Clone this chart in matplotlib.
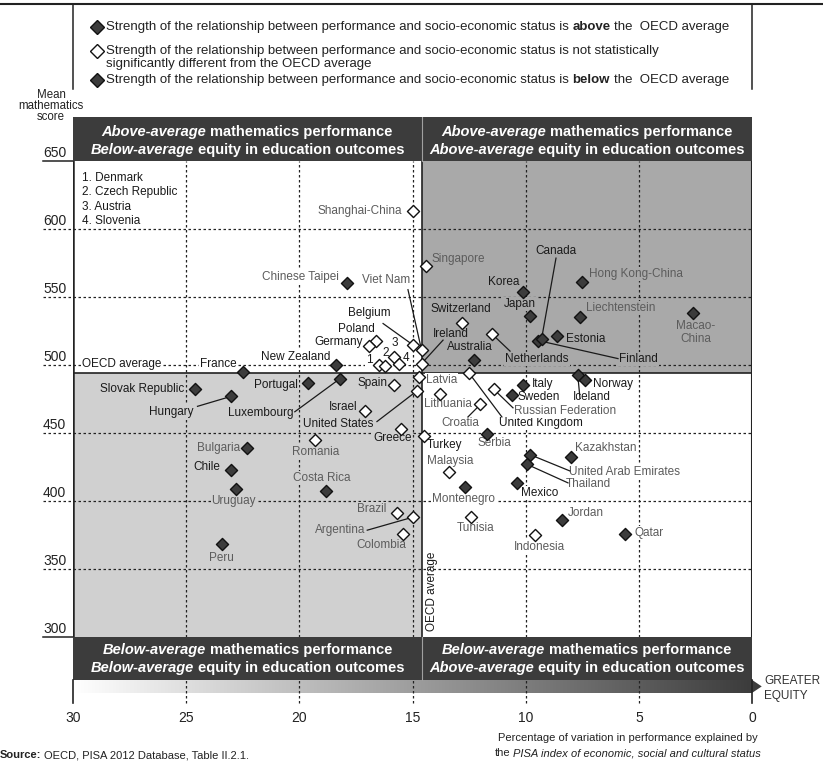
import matplotlib.pyplot as plt
import numpy as np
from matplotlib.colors import LinearSegmentedColormap
from matplotlib.patches import Rectangle, Polygon
from matplotlib.lines import Line2D
from matplotlib.transforms import offset_copy

plt.rcParams['font.family'] = ['Liberation Sans', 'DejaVu Sans']

# ---- data --------------------------------------------------------------
countries = ["Shanghai-China", "Singapore", "Hong Kong-China", "Chinese Taipei", "Korea",
             "Macao-China", "Japan", "Liechtenstein", "Switzerland", "Netherlands",
             "Estonia", "Finland", "Canada", "Poland", "Belgium", "Germany", "Viet Nam",
             "Austria", "Australia", "Ireland", "Slovenia", "Denmark", "New Zealand",
             "Czech Republic", "France", "United Kingdom", "Iceland", "Latvia",
             "Luxembourg", "Norway", "Portugal", "Italy", "Spain", "Russian Federation",
             "Slovak Republic", "United States", "Lithuania", "Sweden", "Hungary",
             "Croatia", "Israel", "Greece", "Serbia", "Turkey", "Romania", "Bulgaria",
             "United Arab Emirates", "Kazakhstan", "Thailand", "Chile", "Malaysia",
             "Mexico", "Montenegro", "Uruguay", "Costa Rica", "Brazil", "Argentina",
             "Tunisia", "Jordan", "Colombia", "Qatar", "Indonesia", "Peru"]
escs_share = [15.0, 14.4, 7.5, 17.9, 10.1, 2.6, 9.8, 7.6, 12.8, 11.5,
              8.6, 9.45, 9.3, 16.6, 15.0, 16.9, 14.6, 15.8, 12.3, 14.6,
              15.6, 16.5, 18.4, 16.2, 22.5, 12.5, 7.7, 14.7, 18.2, 7.4,
              19.6, 10.1, 15.8, 11.4, 24.6, 14.8, 13.8, 10.6, 23.0, 12.0,
              17.1, 15.5, 11.7, 14.5, 19.3, 22.3, 9.8, 8.0, 9.95, 23.0,
              13.4, 10.4, 12.7, 22.8, 18.8, 15.7, 15.0, 12.4, 8.4, 15.4,
              5.6, 9.6, 23.4]
math_score = [613, 573, 561, 560, 554, 538, 536, 535, 531, 523,
              521, 518, 519, 518, 515, 514, 511, 506, 504, 501,
              501, 500, 500, 499, 495, 494, 493, 491, 490, 489,
              487, 485, 485, 482, 482, 481, 479, 478, 477, 471,
              466, 453, 449, 448, 445, 439, 434, 432, 427, 423,
              421, 413, 410, 409, 407, 391, 388, 388, 386, 376,
              376, 375, 368]
# 'above' / 'below' = strength of relationship vs OECD average, 'ns' = not significant
relationship = ['ns', 'ns', 'below', 'above', 'below', 'below', 'below', 'below', 'ns', 'ns',
                'below', 'below', 'below', 'ns', 'ns', 'ns', 'ns', 'ns', 'below', 'ns',
                'ns', 'ns', 'above', 'ns', 'above', 'ns', 'below', 'ns', 'above', 'below',
                'above', 'below', 'ns', 'ns', 'above', 'ns', 'ns', 'below', 'above', 'ns',
                'ns', 'ns', 'below', 'ns', 'ns', 'above', 'below', 'below', 'below', 'above',
                'ns', 'below', 'below', 'above', 'above', 'ns', 'ns', 'ns', 'below', 'ns',
                'below', 'ns', 'above']
partners = {"Shanghai-China", "Singapore", "Hong Kong-China", "Chinese Taipei", "Macao-China",
            "Liechtenstein", "Viet Nam", "Latvia", "Russian Federation", "Lithuania",
            "Croatia", "Serbia", "Romania", "Bulgaria", "United Arab Emirates", "Kazakhstan",
            "Thailand", "Malaysia", "Montenegro", "Uruguay", "Costa Rica", "Brazil",
            "Argentina", "Tunisia", "Jordan", "Colombia", "Qatar", "Indonesia", "Peru"}
numbered = ["Denmark", "Czech Republic", "Austria", "Slovenia"]

oecd_math = 494
oecd_share = 14.6
y_ticks = [300, 350, 400, 450, 500, 550, 600, 650]
x_ticks = [30, 25, 20, 15, 10, 5, 0]

# ---- label layout (text anchor, alignment, optional leader start) -------
labels = {
    "Shanghai-China": (15.47, 613.2, 'right'), "Chinese Taipei": (18.25, 565, 'right'),
    "Viet Nam": (16.17, 562.5, 'center'), "Belgium": (16.9, 538, 'center'),
    "Poland": (17.5, 526.7, 'center'), "Germany": (17.19, 517, 'right'),
    "Denmark": (16.92, 503.6, 'center'), "Czech Republic": (16.2, 508.5, 'center'),
    "Austria": (15.8, 516, 'center'), "Slovenia": (15.29, 505.4, 'center'),
    "New Zealand": (20.17, 506.1, 'center'), "France": (22.76, 500.7, 'right'),
    "Singapore": (14.14, 578, 'left'), "Canada": (8.66, 584, 'center'),
    "Korea": (10.3, 561.3, 'right'), "Hong Kong-China": (7.2, 567, 'left'),
    "Japan": (10.27, 545, 'center'), "Switzerland": (12.88, 541.2, 'center'),
    "Liechtenstein": (7.34, 542, 'left'), "Macao-China": (2.47, 523.9, 'center'),
    "Ireland": (13.3, 522.5, 'center'), "Estonia": (8.22, 519, 'left'),
    "Australia": (12.48, 513.2, 'center'), "Netherlands": (9.5, 504.6, 'center'),
    "Finland": (5.88, 504.6, 'left'), "Norway": (7.03, 486, 'left'),
    "Italy": (9.72, 486, 'left'), "Latvia": (14.4, 489, 'left'),
    "Sweden": (10.34, 476.2, 'left'), "Iceland": (7.07, 476.2, 'center'),
    "Russian Federation": (10.52, 466.4, 'left'), "United Kingdom": (11.18, 457, 'left'),
    "Lithuania": (13.45, 471.3, 'center'), "Croatia": (12.9, 457.6, 'center'),
    "Turkey": (13.57, 441.2, 'center'), "Serbia": (11.4, 442.4, 'center'),
    "Kazakhstan": (7.82, 439, 'left'), "United Arab Emirates": (8.09, 421.6, 'left'),
    "Thailand": (8.22, 412.8, 'left'), "Malaysia": (13.32, 429.6, 'center'),
    "Mexico": (9.4, 406, 'center'), "Montenegro": (12.73, 401.5, 'center'),
    "Jordan": (8.13, 391.4, 'left'), "Qatar": (5.17, 376.7, 'left'),
    "Tunisia": (12.2, 380, 'center'), "Indonesia": (9.37, 366, 'center'),
    "Slovak Republic": (25.1, 482, 'right'), "Hungary": (25.64, 465.6, 'center'),
    "Portugal": (20.06, 485.3, 'right'), "Luxembourg": (21.7, 464.4, 'center'),
    "Spain": (16.1, 487, 'right'), "Israel": (17.44, 468.9, 'right'),
    "United States": (18.28, 456.3, 'center'), "Greece": (15.9, 446, 'center'),
    "Bulgaria": (22.62, 439, 'right'), "Romania": (19.27, 436.2, 'center'),
    "Chile": (23.48, 425.2, 'right'), "Costa Rica": (19.0, 417, 'center'),
    "Uruguay": (22.9, 400.2, 'center'), "Brazil": (16.14, 393.8, 'right'),
    "Argentina": (18.18, 378.5, 'center'), "Colombia": (16.4, 367.6, 'center'),
    "Peru": (23.43, 358.3, 'center'),
}
leaders = {
    "Viet Nam": (15.2, 555.4), "Belgium": (16.3, 530.5), "Canada": (8.66, 578.6),
    "Ireland": (13.65, 518.3), "Netherlands": (10.69, 510.2), "Finland": (5.92, 504.7),
    "Iceland": (7.6, 475.5), "Russian Federation": (10.56, 468.5),
    "United Kingdom": (11.05, 461.8), "Croatia": (12.55, 461.8),
    "United Arab Emirates": (8.05, 422.1), "Thailand": (8.13, 413.3),
    "Hungary": (24.5, 469.6), "Luxembourg": (20.2, 465.6),
    "United States": (16.57, 458.4), "Argentina": (17.0, 378.5),
}

DARK = '#3c3c3c'
TR_FILL = '#a9a9a9'
BL_FILL = '#d0d0d0'
GREY_TXT = '#5c5c5c'
BLACK_TXT = '#1a1a1a'

W, H = 823, 762
fig = plt.figure(figsize=(W / 100, H / 100), dpi=100)
ax = fig.add_axes([73 / W, 1 - 703 / H, 679 / W, 586 / H])
Y_TOP, Y_BOT = 682.4, 251.4
BOX_LOW = 268.4
GRAD_LOW = 258.8
ax.set_xlim(30, 0)
ax.set_ylim(Y_BOT, Y_TOP)
ax.axis('off')


def fx(px):
    return px / W


def fy(py):
    return 1 - py / H


def rich_line(x, y, parts, size, color, transform, ha='left', zorder=6):
    """Draw text pieces with mixed weight/style on one line."""
    r = fig.canvas.get_renderer()
    objs, widths = [], []
    for s, weight, style in parts:
        t = fig.text(x, y, s, fontsize=size, color=color, fontweight=weight,
                     fontstyle=style, ha='left', va='center', transform=transform,
                     zorder=zorder)
        objs.append(t)
        widths.append(t.get_window_extent(renderer=r).width)
    gap = size * 100 / 72 * 0.278
    total = sum(widths) + gap * (len(widths) - 1)
    cur = -total / 2 if ha == 'center' else 0
    for t, w in zip(objs, widths):
        t.set_transform(offset_copy(transform, fig=fig, x=cur, y=0, units='dots'))
        cur += w + gap


# quadrant shading
ax.add_patch(Rectangle((0, oecd_math), oecd_share, 650 - oecd_math, fc=TR_FILL, ec='none', zorder=0))
ax.add_patch(Rectangle((oecd_share, 300), 30 - oecd_share, oecd_math - 300, fc=BL_FILL, ec='none', zorder=0))

# grid
dot = (0, (2, 2))
for yv in y_ticks[1:-1]:
    ax.plot([31.33, 0], [yv, yv], color='#222', lw=0.9, ls=dot, clip_on=False, zorder=1)
for yv in (300, 650):
    ax.plot([31.33, 30], [yv, yv], color='#222', lw=1.1, clip_on=False, zorder=1)
for xv in x_ticks[1:-1]:
    ax.plot([xv, xv], [300, 650], color='#222', lw=0.9, ls=dot, zorder=1)
    ax.plot([xv, xv], [Y_BOT, BOX_LOW], color='#222', lw=0.9, ls=dot, zorder=3, clip_on=False)
for xv in (30, 0):
    ax.plot([xv, xv], [Y_BOT, BOX_LOW], color='#222', lw=1.2, zorder=3, clip_on=False)
for yv in y_ticks:
    fig.text(fx(43), fy(161 + (650 - yv) * 1.3596 - 1), str(yv), fontsize=10,
             color='#222', ha='left', va='bottom')
for xv in x_ticks:
    ax.text(xv, 240.3, str(xv), fontsize=10, color='#222', ha='center', va='center')

# frame and OECD average lines
ax.plot([30, 30], [300, 650], color='#222', lw=1.8, zorder=2)
ax.plot([0, 0], [300, 650], color='#222', lw=1.5, zorder=2)
ax.plot([30, 0], [oecd_math, oecd_math], color='#222', lw=1.2, zorder=2)
ax.plot([oecd_share, oecd_share], [300, 650], color='#222', lw=1.2, zorder=2)

# header boxes
for y0, y1 in ((650, Y_TOP), (BOX_LOW, 300)):
    ax.add_patch(Rectangle((0, y0), 30, y1 - y0, fc=DARK, ec='none', zorder=2, clip_on=False))
    ax.plot([oecd_share, oecd_share], [y0, y1], color='#a0a0a0', lw=0.8, zorder=3)

BI = ('bold', 'italic')
B = ('bold', 'normal')
headers = [
    (22.3, 671.3, "Above-average", "mathematics performance"),
    (22.3, 658.1, "Below-average", "equity in education outcomes"),
    (7.3, 671.3, "Above-average", "mathematics performance"),
    (7.3, 658.1, "Above-average", "equity in education outcomes"),
    (22.3, 290.3, "Below-average", "mathematics performance"),
    (22.3, 276.9, "Below-average", "equity in education outcomes"),
    (7.3, 290.3, "Below-average", "mathematics performance"),
    (7.3, 276.9, "Above-average", "equity in education outcomes"),
]
for hx, hy, a, b in headers:
    rich_line(hx, hy, [(a,) + BI, (b,) + B], 10.5, 'white', ax.transData, ha='center')

# gradient bar with arrow
cmap = LinearSegmentedColormap.from_list('eq', ['#ffffff', DARK])
ax.imshow(np.linspace(0, 1, 256)[None, :], cmap=cmap, aspect='auto',
          extent=(30, 0, GRAD_LOW, BOX_LOW), zorder=1)
ax.add_patch(Polygon([(0, BOX_LOW), (-0.43, (BOX_LOW + GRAD_LOW) / 2), (0, GRAD_LOW)],
                     closed=True, fc=DARK, ec='none', clip_on=False, zorder=2))
ax.set_xlim(30, 0)
ax.set_ylim(Y_BOT, Y_TOP)
fig.text(fx(764), fy(681), "GREATER", fontsize=8.5, color='#333', ha='left', va='center')
fig.text(fx(764), fy(696), "EQUITY", fontsize=8.5, color='#333', ha='left', va='center')


def region_bg(x, y):
    if x < oecd_share and y > oecd_math:
        return TR_FILL
    if x > oecd_share and y < oecd_math:
        return BL_FILL
    return 'white'


# country labels, leaders, markers
for name, xv, yv in zip(countries, escs_share, math_score):
    lx, ly, ha = labels[name]
    txt = str(numbered.index(name) + 1) if name in numbered else name
    if name == "Macao-China":
        txt = "Macao-\nChina"
    col = GREY_TXT if name in partners else BLACK_TXT
    ax.text(lx, ly, txt, fontsize=8.5, color=col, ha=ha, va='center', zorder=3,
            linespacing=1.15,
            bbox=dict(boxstyle='square,pad=0.08', fc=region_bg(lx, ly), ec='none'))
    if name in leaders:
        sx, sy = leaders[name]
        ax.plot([sx, xv], [sy, yv], color='#1a1a1a', lw=0.9, zorder=4)

esc = np.array(escs_share)
ms = np.array(math_score)
rel = np.array(relationship)
for key, fc in (('above', DARK), ('below', DARK), ('ns', 'white')):
    sel = rel == key
    ax.scatter(esc[sel], ms[sel], marker='D', s=38, facecolor=fc, edgecolor='#111',
               linewidth=1.0, zorder=5)

ax.text(29.6, 500.7, "OECD average", fontsize=8.5, color=BLACK_TXT, ha='left', va='center',
        zorder=3, bbox=dict(boxstyle='square,pad=0.08', fc='white', ec='none'))
ax.text(14.14, 333.8, "OECD average", fontsize=8.5, color=BLACK_TXT, rotation=90,
        ha='center', va='center', zorder=3)

ax.text(29.6, 642, "\n".join(f"{i + 1}. {c}" for i, c in enumerate(numbered)), fontsize=8.5,
        color=BLACK_TXT, ha='left', va='top', linespacing=1.28, zorder=3)

# axis titles
for i, s in enumerate(["Mean", "mathematics", "score"]):
    fig.text(fx(51), fy(95 + i * 10.8), s, fontsize=8.3, color='#222', ha='center', va='center')
fig.text(fx(628), fy(738), "Percentage of variation in performance explained by",
         fontsize=8, color='#222', ha='center', va='center')
rich_line(fx(628), fy(753), [("the", 'normal', 'normal'),
                             ("PISA index of economic, social and cultural status", 'normal', 'italic')],
          8, '#222', fig.transFigure, ha='center')

# legend block at the top
fig.add_artist(Line2D([0, 1], [fy(4), fy(4)], color='#222', lw=1.5, transform=fig.transFigure))
for px in (73.3, 751.7):
    fig.add_artist(Line2D([fx(px), fx(px)], [fy(4), fy(89)], color='#222', lw=1.1,
                          transform=fig.transFigure))
N = ('normal', 'normal')
BO = ('bold', 'normal')
lead = "Strength of the relationship between performance and socio-economic status is"
legend_rows = [
    (26.7, DARK, [(lead,) + N, ("above",) + BO, ("the  OECD average",) + N]),
    (50.7, 'white', [(lead + " not statistically",) + N]),
    (80.0, DARK, [(lead,) + N, ("below",) + BO, ("the  OECD average",) + N]),
]
for py, fc, parts in legend_rows:
    fig.add_artist(Line2D([fx(96.7)], [fy(py)], marker='D', ms=7, mfc=fc, mec='#111',
                          mew=1.0, ls='none', transform=fig.transFigure))
    rich_line(fx(106), fy(py), parts, 9.5, '#222', fig.transFigure)
fig.text(fx(106), fy(64), "significantly different from the OECD average", fontsize=9.5,
         color='#222', ha='left', va='center')

rich_line(fx(0), fy(755), [("Source:", 'bold', 'normal'),
                           ("OECD, PISA 2012 Database, Table II.2.1.", 'normal', 'normal')],
          8, '#222', fig.transFigure)

fig.savefig("out.png", dpi=100)
